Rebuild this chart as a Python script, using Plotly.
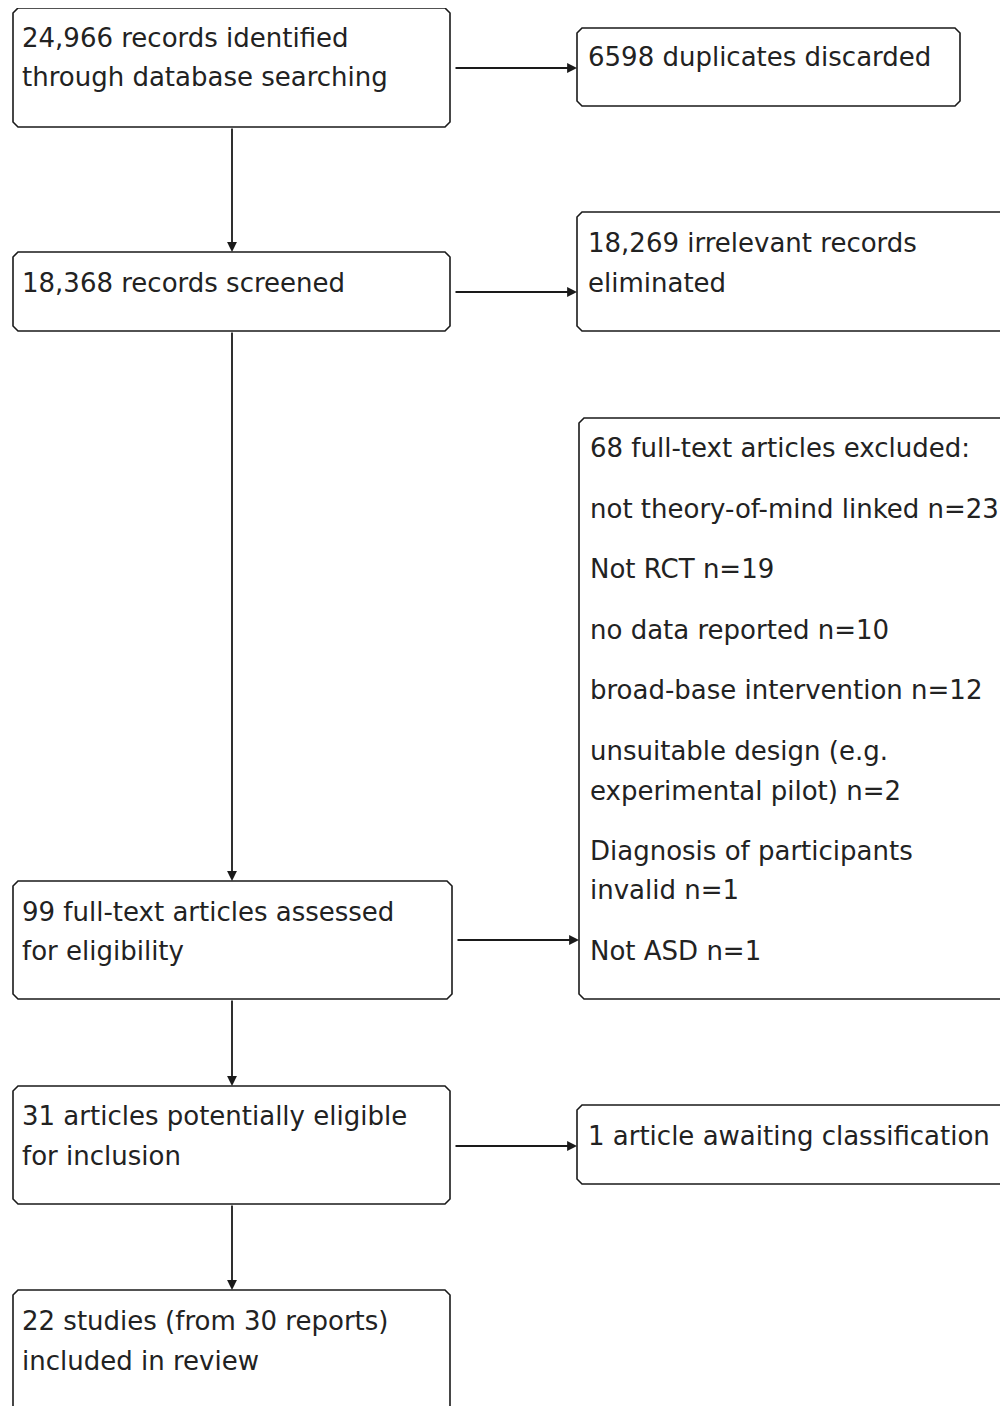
import plotly.graph_objects as go

# ---- data: box texts ----
main_texts = [
    ["24,966 records identified", "through database searching"],
    ["18,368 records screened"],
    ["99 full-text articles assessed", "for eligibility"],
    ["31 articles potentially eligible", "for inclusion"],
    ["22 studies (from 30 reports)", "included in review"],
]
side_texts = [
    ["6598 duplicates discarded"],
    ["18,269 irrelevant records", "eliminated"],
    ["68 full-text articles excluded:", "not theory-of-mind linked n=23", "Not RCT n=19",
     "no data reported n=10", "broad-base intervention n=12", "unsuitable design (e.g.",
     "experimental pilot) n=2", "Diagnosis of participants", "invalid n=1", "Not ASD n=1"],
    ["1 article awaiting classification"],
]

# ---- layout geometry (page pixels) ----
W, H = 1008, 1406
OFF = 8  # default page body margin
main_boxes = [(13, 450, 8, 127), (13, 450, 252, 331), (13, 452, 881, 999),
              (13, 450, 1086, 1204), (13, 450, 1290, 1420)]
main_text_y = [[38, 77], [283], [912, 951], [1116, 1156], [1321, 1361]]
side_boxes = [(577, 960, 28, 106), (577, 1020, 212, 331), (579, 1020, 418, 999),
              (577, 1020, 1105, 1184)]
side_text_y = [[57], [243, 283], [448, 509, 569, 630, 690, 751, 791, 851, 890, 951], [1136]]
arrow_y = [68, 292, 940, 1146]
vx = 232

LINE = "#1a1a1a"
FONT = dict(family="DejaVu Sans, Verdana, sans-serif", size=26, color="#222222")

fig = go.Figure()
shapes = []
annotations = []


def chamfer_path(x0, x1, y0, y1, c=5):
    return (f"M{x0+c},{y0} L{x1-c},{y0} L{x1},{y0+c} L{x1},{y1-c} L{x1-c},{y1} "
            f"L{x0+c},{y1} L{x0},{y1-c} L{x0},{y0+c} Z")


for (x0, x1, y0, y1) in main_boxes + side_boxes:
    shapes.append(dict(type="path", path=chamfer_path(x0, x1, y0, y1), xref="x", yref="y",
                       line=dict(color=LINE, width=1.6), fillcolor="white"))

for (x0, x1, y0, y1), lines, ys in zip(main_boxes, main_texts, main_text_y):
    for t, y in zip(lines, ys):
        annotations.append(dict(x=x0 + 7, y=y, text=t, showarrow=False, xref="x", yref="y",
                                xanchor="left", yanchor="middle", font=FONT))

for (x0, x1, y0, y1), lines, ys in zip(side_boxes, side_texts, side_text_y):
    for t, y in zip(lines, ys):
        annotations.append(dict(x=x0 + 9, y=y, text=t, showarrow=False, xref="x", yref="y",
                                xanchor="left", yanchor="middle", font=FONT))

# vertical arrows
for i in range(len(main_boxes) - 1):
    y_start = main_boxes[i][3]
    y_end = main_boxes[i + 1][2]
    annotations.append(dict(x=vx, y=y_end, ax=vx, ay=y_start, xref="x", yref="y",
                            axref="x", ayref="y", text="", showarrow=True, arrowhead=2,
                            arrowsize=1.1, arrowwidth=1.8, arrowcolor=LINE, standoff=0))

# horizontal arrows
for i, y in enumerate(arrow_y):
    x_start = main_boxes[i][1] + 4
    x_end = side_boxes[i][0]
    annotations.append(dict(x=x_end, y=y, ax=x_start, ay=y, xref="x", yref="y",
                            axref="x", ayref="y", text="", showarrow=True, arrowhead=2,
                            arrowsize=1.1, arrowwidth=1.8, arrowcolor=LINE, standoff=0))

fig.update_layout(
    width=W - OFF, height=H - OFF, margin=dict(l=0, r=0, t=0, b=0),
    paper_bgcolor="white", plot_bgcolor="white",
    xaxis=dict(range=[OFF, W], visible=False, fixedrange=True),
    yaxis=dict(range=[H, OFF], visible=False, fixedrange=True),
    shapes=shapes, annotations=annotations, showlegend=False,
)
fig.write_html("out.html")
